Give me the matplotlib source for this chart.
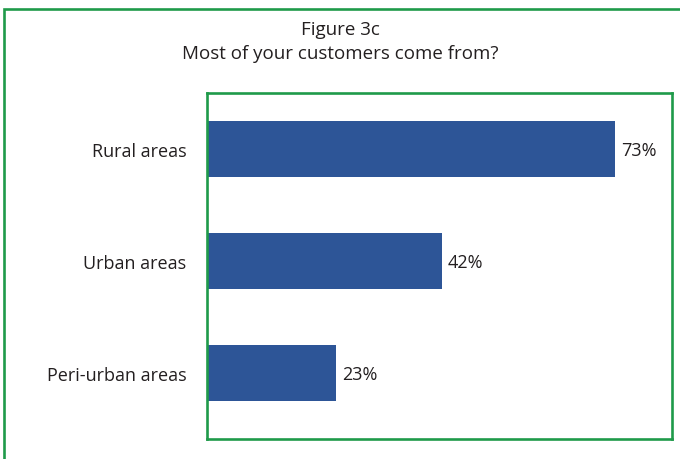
import matplotlib.pyplot as plt
from matplotlib.patches import Rectangle

categories = ['Rural areas', 'Urban areas', 'Peri-urban areas']
values = [73, 42, 23]
value_labels = ['73%', '42%', '23%']

green = '#1f9a4a'
bar_color = '#2d5597'
text_color = '#231f20'

plt.rcParams['font.family'] = ['Open Sans', 'DejaVu Sans']

fig = plt.figure(figsize=(6.8, 4.6), dpi=100)

# outer frame, runs off the right and bottom edges
fig.patches.append(Rectangle((3.5 / 680, -0.2), 1.2, 1.2 - 10 / 460,
                             transform=fig.transFigure, fill=False,
                             edgecolor=green, linewidth=1.9, clip_on=False))

fig.text(0.5, 1 - 30 / 460, 'Figure 3c', ha='center', va='center',
         fontsize=13.5, color=text_color)
fig.text(0.5, 1 - 54 / 460, 'Most of your customers come from?', ha='center',
         va='center', fontsize=13.5, color=text_color)

ax = fig.add_axes([207 / 680, 1 - 440 / 460, (672 - 207) / 680, (440 - 94) / 460])
pos = list(range(len(categories)))
ax.barh(pos, values, height=0.5, color=bar_color)
for p, v, lab in zip(pos, values, value_labels):
    ax.annotate(lab, (v, p), xytext=(4.5, -1), textcoords='offset points',
                ha='left', va='center', fontsize=13, color=text_color)

ax.set_xlim(0, 83.2)
ax.set_ylim(2.59, -0.5)
ax.set_yticks(pos)
ax.set_yticklabels(categories, fontsize=13, color=text_color)
ax.set_xticks([])
ax.tick_params(axis='y', length=0, pad=15)
for s in ax.spines.values():
    s.set_color(green)
    s.set_linewidth(1.9)

fig.savefig('out.png', dpi=100)
